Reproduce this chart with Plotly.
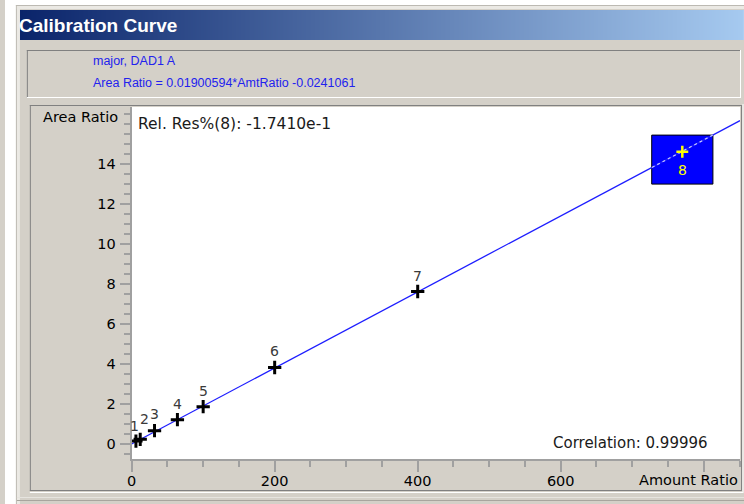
import plotly.graph_objects as go

W, H = 744, 504

# Calibration levels (amount ratio vs. area ratio)
levels = ["1", "2", "3", "4", "5", "6", "7", "8"]
amt_ratio = [6, 12, 32, 64, 100, 200, 400, 770]
area_ratio = [0.12, 0.21, 0.64, 1.19, 1.84, 3.80, 7.60, 14.585]

# Linear fit reported by the method
slope = 0.01900594
intercept = -0.0241061
correlation = 0.99996
rel_res_level = "8"
rel_res_value = "-1.7410e-1"

x_tick_vals = [0, 200, 400, 600, 800]
x_tick_text = ["0", "200", "400", "600", ""]
y_tick_vals = [0, 2, 4, 6, 8, 10, 12, 14]

X_RANGE = [0, 850.7]
Y_RANGE = [-0.775, 16.825]

FONT = "DejaVu Sans"
PANEL = "#d4d0c8"
DARK = "#808080"
AXIS = "#a0a0a0"


def px(x):
    return x / W


def py(y):
    return 1 - y / H


def fit(x):
    return slope * x + intercept


fig = go.Figure()

# Regression line across the whole x range
line_x = [X_RANGE[0], X_RANGE[1]]
fig.add_trace(go.Scatter(
    x=line_x, y=[fit(v) for v in line_x], mode="lines",
    line=dict(color="#1e1eff", width=1.3), hoverinfo="skip", showlegend=False,
))

# Lighter segment where the line passes the highlighted level
hl_x = [amt_ratio[-1] - 42.5, amt_ratio[-1] + 42.5]
fig.add_trace(go.Scatter(
    x=hl_x, y=[fit(v) for v in hl_x], mode="lines",
    line=dict(color="#c8c8ff", width=1.2, dash="dot"), hoverinfo="skip", showlegend=False,
))

# Calibration points 1-7
fig.add_trace(go.Scatter(
    x=amt_ratio[:-1], y=area_ratio[:-1], mode="markers",
    marker=dict(symbol="cross-thin", size=9.5, line=dict(color="black", width=3)),
    hoverinfo="skip", showlegend=False,
))

# Selected level (8)
fig.add_trace(go.Scatter(
    x=amt_ratio[-1:], y=area_ratio[-1:], mode="markers",
    marker=dict(symbol="cross-thin", size=8.5, line=dict(color="#ffff00", width=2.5)),
    hoverinfo="skip", showlegend=False,
))

# Title bar gradient
fig.add_trace(go.Heatmap(
    z=[[0, 1]], x=[0, 1], y=[0], xaxis="x2", yaxis="y2",
    colorscale=[[0, "#0a246a"], [1, "#a6caf0"]], zsmooth="best",
    showscale=False, hoverinfo="skip",
))

shapes = []

# White surround outside the window
shapes.append(dict(type="rect", xref="paper", yref="paper", x0=0, x1=px(11), y0=0, y1=1,
                   fillcolor="white", line=dict(width=0), layer="below"))
shapes.append(dict(type="rect", xref="paper", yref="paper", x0=0, x1=1, y0=py(5), y1=1,
                   fillcolor="white", line=dict(width=0), layer="below"))


def hline(y, x0, x1, color, width=1):
    shapes.append(dict(type="line", xref="paper", yref="paper", x0=px(x0), x1=px(x1),
                       y0=py(y), y1=py(y), line=dict(color=color, width=width), layer="below"))


def vline(x, y0, y1, color, width=1):
    shapes.append(dict(type="line", xref="paper", yref="paper", x0=px(x), x1=px(x),
                       y0=py(y0), y1=py(y1), line=dict(color=color, width=width), layer="below"))


# Window edge
vline(11.5, 5, 504, "#bcb9b2")
hline(5.5, 11, 744, "#bcb9b2")
vline(13.5, 6, 504, "#ebe9e4", 3)
hline(7.5, 12, 744, "#ebe9e4", 3)
hline(497.5, 12, 744, "#e6e4df")
hline(500.5, 12, 744, "#a8a59e")

# Header box (sunken)
hline(50.5, 22, 741, DARK)
vline(22.5, 50, 98, DARK)
hline(97.5, 22, 741, "white")
vline(740.5, 50, 98, "white")

# Plot frame
hline(105.5, 25, 741, DARK)
vline(25.5, 105, 491, DARK)
hline(490.5, 25, 741, DARK)
vline(741.5, 105, 491, DARK)
vline(743, 104, 493, "white")
hline(492.5, 25, 743, "white")

# Highlight box around the selected level
shapes.append(dict(type="rect", xref="x", yref="y", xsizemode="pixel", ysizemode="pixel",
                   xanchor=amt_ratio[-1], yanchor=area_ratio[-1],
                   x0=-30.6, x1=30.6, y0=-32.3, y1=16.7,
                   fillcolor="#0000ff", line=dict(color="black", width=1), layer="below"))

annotations = [
    dict(text="<b>Calibration Curve</b>", xref="paper", yref="paper", x=px(12), y=py(25),
         xanchor="left", yanchor="middle", showarrow=False,
         font=dict(family="Liberation Sans", size=19, color="white")),
    dict(text="major, DAD1 A", xref="paper", yref="paper", x=px(87), y=py(61),
         xanchor="left", yanchor="middle", showarrow=False,
         font=dict(family="Liberation Sans", size=12.5, color="#2222ee")),
    dict(text=f"Area Ratio = {slope:.8f}*AmtRatio {intercept:.7f}", xref="paper", yref="paper",
         x=px(87), y=py(83), xanchor="left", yanchor="middle", showarrow=False,
         font=dict(family="Liberation Sans", size=12.5, color="#2222ee")),
    dict(text=f"Rel. Res%({rel_res_level}): {rel_res_value}", xref="paper", yref="paper",
         x=px(132), y=py(124), xanchor="left", yanchor="middle", showarrow=False,
         font=dict(family=FONT, size=15.5, color="#1a1a1a")),
    dict(text=f"Correlation: {correlation:.5f}", xref="paper", yref="paper",
         x=px(710), y=py(443), xanchor="right", yanchor="middle", showarrow=False,
         font=dict(family=FONT, size=15, color="#1a1a1a")),
    dict(text="Area Ratio", xref="paper", yref="paper", x=px(116), y=py(117),
         xanchor="right", yanchor="middle", showarrow=False,
         font=dict(family=FONT, size=14.5, color="black")),
    dict(text="Amount Ratio", xref="paper", yref="paper", x=px(740), y=py(480),
         xanchor="right", yanchor="middle", showarrow=False,
         font=dict(family=FONT, size=14.5, color="black")),
]

# Level numbers above each standard; 1 and 2 sit nearly on top of each other
label_dx = [-1, 4, 0, 0, 0, 0, 0]
label_dy = [15, 20, 17, 16, 16, 17, 16]
for lvl, xv, yv, dx, dy in zip(levels[:-1], amt_ratio[:-1], area_ratio[:-1], label_dx, label_dy):
    annotations.append(dict(text=lvl, x=xv, y=yv, xref="x", yref="y", showarrow=False,
                            xshift=dx, yshift=dy, font=dict(family=FONT, size=14, color="#3a3a3a")))
annotations.append(dict(text=levels[-1], x=amt_ratio[-1], y=area_ratio[-1], xref="x", yref="y",
                        showarrow=False, yshift=-18,
                        font=dict(family=FONT, size=14, color="#ffff00")))

fig.update_layout(
    width=W, height=H, margin=dict(l=0, r=0, t=0, b=0),
    paper_bgcolor=PANEL, plot_bgcolor="white",
    shapes=shapes, annotations=annotations, showlegend=False,
    xaxis=dict(
        domain=[px(127.5), px(740)], range=X_RANGE, fixedrange=True,
        showgrid=False, zeroline=False, showline=True, linecolor=AXIS, linewidth=2,
        tickmode="array", tickvals=x_tick_vals, ticktext=x_tick_text,
        ticks="outside", ticklen=11, tickcolor=AXIS, tickwidth=1.5,
        ticklabelstandoff=-3,
        tickfont=dict(family=FONT, size=14.5, color="black"),
        minor=dict(tickmode="linear", tick0=0, dtick=50, ticks="outside",
                   ticklen=6, tickcolor=AXIS, tickwidth=1.5, showgrid=False),
    ),
    yaxis=dict(
        domain=[py(459), py(107)], range=Y_RANGE, fixedrange=True,
        showgrid=False, zeroline=False, showline=True, linecolor=AXIS, linewidth=2,
        tickmode="array", tickvals=y_tick_vals,
        ticks="outside", ticklen=10, tickcolor=AXIS, tickwidth=1.5,
        ticklabelstandoff=1,
        tickfont=dict(family=FONT, size=14.5, color="black"),
        minor=dict(tickmode="linear", tick0=0, dtick=0.5, ticks="outside",
                   ticklen=6, tickcolor=AXIS, tickwidth=1.5, showgrid=False),
    ),
    xaxis2=dict(domain=[px(15), 1], range=[0, 1], visible=False, fixedrange=True),
    yaxis2=dict(domain=[py(40), py(10)], range=[-0.5, 0.5], visible=False, fixedrange=True),
)

fig.write_html("out.html")
